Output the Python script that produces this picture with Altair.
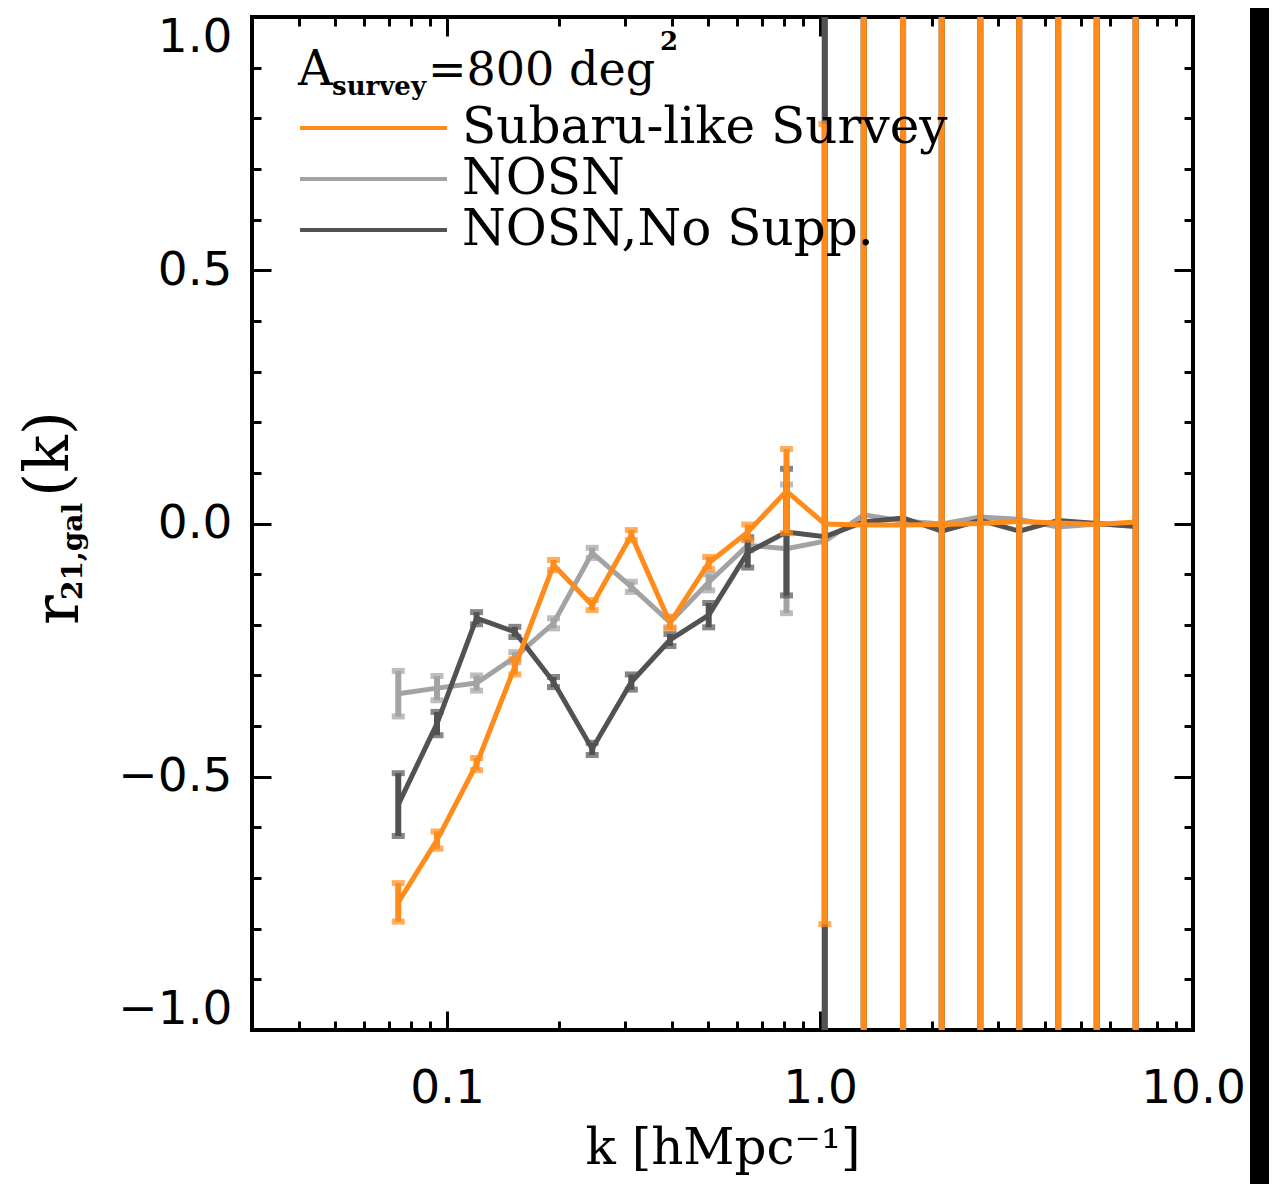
import altair as alt
import pandas as pd

# ---------------- data ----------------
k_vals = [0.074, 0.094, 0.120, 0.152, 0.193, 0.245, 0.312, 0.396, 0.503, 0.640,
          0.813, 1.03, 1.31, 1.67, 2.12, 2.69, 3.42, 4.35, 5.52, 7.02]

subaru_r = [-0.748, -0.625, -0.475, -0.283, -0.082, -0.161, -0.023, -0.196, -0.078, -0.017,
            0.064, -0.001, -0.003, -0.003, -0.002, 0.000, 0.004, 0.001, -0.002, 0.003]
subaru_err = [0.038, 0.017, 0.012, 0.015, 0.010, 0.010, 0.010, 0.012, 0.012, 0.015,
              0.083, 0.79, 3.0, 3.0, 3.0, 3.0, 3.0, 3.0, 3.0, 3.0]

nosn_r = [-0.336, -0.325, -0.315, -0.264, -0.197, -0.058, -0.125, -0.195, -0.116, -0.043,
          -0.050, -0.035, 0.017, 0.005, -0.001, 0.013, 0.008, -0.007, -0.001, -0.004]
nosn_err = [0.045, 0.024, 0.015, 0.010, 0.010, 0.010, 0.010, 0.010, 0.016, 0.010,
            0.127, 2.0, 2.0, 2.0, 2.0, 2.0, 2.0, 2.0, 2.0, 2.0]

nosupp_r = [-0.555, -0.395, -0.187, -0.214, -0.313, -0.445, -0.313, -0.230, -0.181, -0.057,
            -0.017, -0.026, 0.003, 0.011, -0.015, 0.006, -0.015, 0.006, 0.000, -0.006]
nosupp_err = [0.062, 0.023, 0.012, 0.010, 0.010, 0.012, 0.015, 0.012, 0.024, 0.030,
              0.125, 2.5, 2.5, 2.5, 2.5, 2.5, 2.5, 2.5, 2.5, 2.5]

series_names = ["Subaru-like Survey", "NOSN", "NOSN,No Supp."]
series_colors = ["#FF8C1A", "#A3A3A3", "#525252"]
draw_order = ["NOSN", "NOSN,No Supp.", "Subaru-like Survey"]

x_major = [0.1, 1, 10]
x_minor = [0.04, 0.05, 0.06, 0.07, 0.08, 0.09,
           0.2, 0.3, 0.4, 0.5, 0.6, 0.7, 0.8, 0.9,
           2, 3, 4, 5, 6, 7, 8, 9]
y_major = [-1.0, -0.5, 0.0, 0.5, 1.0]
y_minor = [-0.9, -0.8, -0.7, -0.6, -0.4, -0.3, -0.2, -0.1,
           0.1, 0.2, 0.3, 0.4, 0.6, 0.7, 0.8, 0.9]

rows = []
for name, rv, ev in [("Subaru-like Survey", subaru_r, subaru_err),
                     ("NOSN", nosn_r, nosn_err),
                     ("NOSN,No Supp.", nosupp_r, nosupp_err)]:
    for k, r, e in zip(k_vals, rv, ev):
        rows.append({"k": k, "r": r, "err": e, "series": name})
df = pd.DataFrame(rows)

W, H = 941, 1013

xs = alt.Scale(type="log", domain=[0.03, 10])
ys = alt.Scale(domain=[-1, 1])
cs = alt.Scale(domain=series_names, range=series_colors)


# ---------------- axes (ticks drawn inward via negative offset) ----------------
def tick_axis(orient, values, size):
    return alt.Axis(orient=orient, values=values, labels=False, domain=False, grid=False,
                    ticks=True, tickSize=size, offset=-size, tickWidth=3,
                    tickColor="black", title=None)


x_lab = alt.Axis(orient="bottom", values=x_major, labelExpr="format(datum.value, '.1f')",
                 ticks=False, tickSize=0, domain=False, grid=False,
                 labelFont="DejaVu Sans", labelFontSize=47, labelColor="black",
                 labelPadding=35, labelFlush=False, labelOverlap=False,
                 title="k [hMpc⁻¹]", titleFont="DejaVu Serif", titleFontSize=50,
                 titleFontWeight="normal", titleColor="black", titlePadding=12)
y_lab = alt.Axis(orient="left", values=y_major, format=".1f",
                 ticks=False, tickSize=0, domain=False, grid=False,
                 labelFont="DejaVu Sans", labelFontSize=47, labelColor="black",
                 labelPadding=20, labelFlush=True, labelFlushOffset=3,
                 labelOverlap=False, title=None)


def axis_layer(xaxis, yaxis):
    return alt.Chart(df).mark_point(opacity=0).encode(
        x=alt.X("k:Q", scale=xs, axis=xaxis),
        y=alt.Y("r:Q", scale=ys, axis=yaxis),
    )


axis_layers = [
    axis_layer(x_lab, y_lab),
    axis_layer(tick_axis("bottom", x_major, 19), tick_axis("left", y_major, 19)),
    axis_layer(tick_axis("bottom", x_minor, 9), tick_axis("left", y_minor, 9)),
    axis_layer(tick_axis("top", x_major, 19), tick_axis("right", y_major, 19)),
    axis_layer(tick_axis("top", x_minor, 9), tick_axis("right", y_minor, 9)),
]

# ---------------- data layers ----------------
legend = alt.Legend(orient="none", legendX=46, legendY=86, symbolType="stroke",
                    symbolSize=21609, symbolStrokeWidth=4, labelFont="DejaVu Serif",
                    labelFontSize=50, labelColor="black", labelOffset=13, clipHeight=50,
                    rowPadding=1, padding=0, title=None, labelLimit=2000,
                    labelBaseline="middle")

data_layers = []
for i, name in enumerate(draw_order):
    base = alt.Chart(df).transform_filter(alt.datum.series == name).transform_calculate(
        lo="datum.r - datum.err", hi="datum.r + datum.err")
    xenc = alt.X("k:Q", scale=xs, axis=None)
    cenc = alt.Color("series:N", scale=cs, legend=None)
    bars = base.mark_rule(strokeWidth=6, clip=True).encode(
        x=xenc, y=alt.Y("lo:Q", scale=ys, axis=None), y2="hi:Q",
        color=alt.Color("series:N", scale=cs, legend=legend if i == 0 else None))
    cap_lo = base.mark_tick(orient="horizontal", size=13, thickness=6, clip=True).encode(
        x=xenc, y=alt.Y("lo:Q", scale=ys, axis=None), color=cenc)
    cap_hi = base.mark_tick(orient="horizontal", size=13, thickness=6, clip=True).encode(
        x=xenc, y=alt.Y("hi:Q", scale=ys, axis=None), color=cenc)
    line = base.mark_line(strokeWidth=5, clip=True).encode(
        x=xenc, y=alt.Y("r:Q", scale=ys, axis=None), color=cenc)
    data_layers += [bars, cap_lo, cap_hi, line]


# ---------------- text pieces (legend header, y title) ----------------
def txt(s, x, y, size, weight="normal", angle=0, font="DejaVu Serif"):
    return alt.Chart(alt.Data(values=[{}])).mark_text(
        text=s, font=font, fontSize=size, fontWeight=weight, align="left",
        baseline="alphabetic", angle=angle, color="black").encode(
        x=alt.value(x), y=alt.value(y))


texts = [
    txt("A", 46, 68, 48),
    txt("survey", 80, 78, 26, weight="bold"),
    txt("=800 deg", 176, 68, 46),
    txt("2", 408, 33, 26, weight="bold"),
    txt("r", -174, 608, 62, angle=270),
    txt("21,gal", -170, 583, 28, weight="bold", angle=270),
    txt("(k)", -184, 480, 62, angle=270),
]

strip = alt.Chart(alt.Data(values=[{}])).mark_rect(color="black", clip=False).encode(
    x=alt.value(998), x2=alt.value(1030), y=alt.value(-20), y2=alt.value(1200))

chart = alt.layer(*axis_layers, *data_layers, *texts, strip).resolve_axis(
    x="independent", y="independent"
).properties(
    width=W, height=H,
    autosize=alt.AutoSizeParams(type="none"),
    padding={"left": 244, "top": 9, "right": 76, "bottom": 154},
    background="white",
).configure_view(stroke="black", strokeWidth=4)

chart.save("out.html", embed_options={"renderer": "svg", "actions": False})
